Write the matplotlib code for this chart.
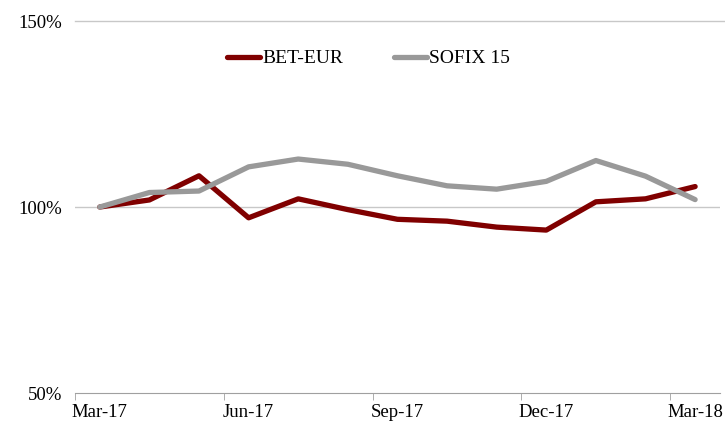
import numpy as np
import matplotlib.pyplot as plt

plt.rcParams['font.family'] = ['Liberation Serif', 'DejaVu Serif']

months = ["Mar-17", "Apr-17", "May-17", "Jun-17", "Jul-17", "Aug-17", "Sep-17",
          "Oct-17", "Nov-17", "Dec-17", "Jan-18", "Feb-18", "Mar-18"]
bet_eur = [100.0, 101.9, 108.4, 97.1, 102.2, 99.3, 96.7, 96.2, 94.6, 93.8, 101.4, 102.2, 105.5]
sofix15 = [100.0, 103.9, 104.3, 110.8, 112.9, 111.5, 108.4, 105.7, 104.8, 106.9, 112.5, 108.3, 102.0]
y_ticks = [50, 100, 150]

fig = plt.figure(figsize=(7.25, 4.21), dpi=100)
ax = fig.add_axes([0.1034, 0.0665, 0.8896, 0.8835])

x = np.arange(len(months))
ax.plot(x, bet_eur, color='#800000', lw=3.8, label='BET-EUR', solid_capstyle='round')
ax.plot(x, sofix15, color='#999999', lw=3.8, label='SOFIX 15', solid_capstyle='round')

ax.set_xlim(-0.5, len(months) - 0.5)
ax.set_ylim(50, 150)
ax.set_yticks(y_ticks)
ax.set_yticklabels(["{}%".format(v) for v in y_ticks], fontsize=13.5)
ax.axhline(100, color='#c8c8c8', lw=1, zorder=0)
ax.plot([-0.5, 13.5], [150, 150], color='#c8c8c8', lw=1, zorder=0, clip_on=False)

# labels every quarter, tick marks between categories
ax.set_xticks(x[::3])
ax.set_xticklabels(months[::3], fontsize=13.5)
ax.set_xticks(np.arange(-0.5, len(months), 3), minor=True)
ax.tick_params(axis='x', which='major', length=0, pad=8)
ax.tick_params(axis='x', which='minor', length=5, color='#a0a0a0', direction='out')
ax.tick_params(axis='y', length=0, pad=9)

for s in ['left', 'right', 'top']:
    ax.spines[s].set_visible(False)
ax.spines['bottom'].set_color('#a0a0a0')

ax.legend(loc='upper center', bbox_to_anchor=(0.455, 0.97), ncol=2, frameon=False,
          fontsize=14, handlelength=1.7, handletextpad=0.1, columnspacing=2.6)

fig.savefig('out.png', dpi=100)
